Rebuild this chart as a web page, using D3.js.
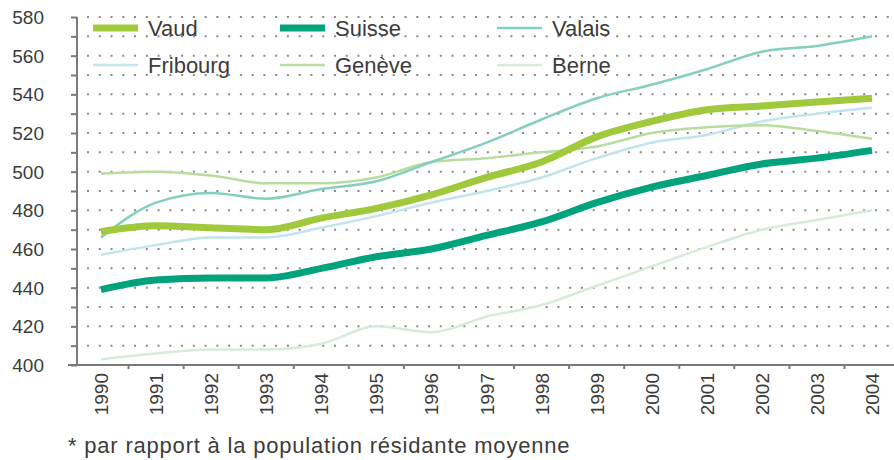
<!DOCTYPE html>
<html>
<head>
<meta charset="utf-8">
<script src="https://d3js.org/d3.v7.min.js"></script>
<title>Vaud Suisse</title>
<style>
body { margin: 0; background: #fff; }
text { font-family: "Liberation Sans", Arial, sans-serif; fill: #3c3c3c; }
</style>
</head>
<body>
<script>

var years = [1990, 1991, 1992, 1993, 1994, 1995, 1996, 1997, 1998, 1999, 2000, 2001, 2002, 2003, 2004];
var yTicks = [400, 420, 440, 460, 480, 500, 520, 540, 560, 580];

var vaud     = [469, 472, 471, 470, 476, 481, 488, 497, 505, 518, 526, 532, 534, 536, 538];
var suisse   = [439, 444, 445, 445, 450, 456, 460, 467, 474, 484, 492, 498, 504, 507, 511];
var valais   = [466, 484, 489, 486, 491, 495, 505, 515, 527, 538, 545, 553, 562, 565, 570];
var fribourg = [457, 462, 466, 466, 471, 477, 484, 490, 497, 507, 515, 519, 526, 530, 533];
var geneve   = [499, 500, 498, 494, 494, 497, 505, 507, 510, 513, 520, 523, 524, 521, 517];
var berne    = [403, 406, 408, 408, 411, 420, 417, 425, 431, 441, 451, 461, 470, 475, 480];

var names = ["Vaud", "Suisse", "Valais", "Fribourg", "Genève", "Berne"];
var footnote = "* par rapport à la population résidante moyenne";

var width = 894,
    height = 460;

var series = [
  { name: names[3], values: fribourg, color: "#c2e4ec", w: 2.5 },
  { name: names[5], values: berne,    color: "#d5ecdb", w: 2.5 },
  { name: names[4], values: geneve,   color: "#b8dd9e", w: 2.5 },
  { name: names[2], values: valais,   color: "#84cfbd", w: 2.5 },
  { name: names[1], values: suisse,   color: "#00a37b", w: 7 },
  { name: names[0], values: vaud,     color: "#a0c93c", w: 7 }
];

var svg = d3.select("body")
  .append("svg")
  .attr("width", width)
  .attr("height", height);

var x = d3.scalePoint()
    .domain(years)
    .range([101, 872]);

var y = d3.scaleLinear()
    .domain([400, 580])
    .range([365, 17]);

// dotted grid, one row every 10
var gridVals = d3.range(410, 581, 10);
svg.append("g")
  .selectAll("line")
  .data(gridVals)
  .enter()
  .append("line")
  .attr("x1", 87)
  .attr("x2", 892)
  .attr("y1", function(d) { return y(d); })
  .attr("y2", function(d) { return y(d); })
  .attr("stroke", "#8a8a8a")
  .attr("stroke-width", 2)
  .attr("stroke-dasharray", "2,9.76");

// y axis
var yAxis = svg.append("g")
  .attr("transform", "translate(77,0)")
  .call(d3.axisLeft(y).tickValues(d3.range(400, 581, 10)).tickSize(6).tickFormat(""));
yAxis.select(".domain").attr("stroke", "#7a7a7a").attr("stroke-width", 2).attr("d", "M0," + y(580) + "V" + (y(400) + 1));
yAxis.selectAll(".tick line").attr("stroke", "#7a7a7a").attr("stroke-width", 2);

svg.append("g")
  .selectAll("text")
  .data(yTicks)
  .enter()
  .append("text")
  .attr("x", 44)
  .attr("y", function(d) { return y(d) + 7; })
  .attr("text-anchor", "end")
  .attr("font-size", 19)
  .text(function(d) { return d; });

// x axis
svg.append("line")
  .attr("x1", 68).attr("x2", width)
  .attr("y1", y(400)).attr("y2", y(400))
  .attr("stroke", "#7a7a7a")
  .attr("stroke-width", 2);

var step = x.step();
svg.append("g")
  .selectAll("line")
  .data(years)
  .enter()
  .append("line")
  .attr("x1", function(d) { return x(d) + step / 2; })
  .attr("x2", function(d) { return x(d) + step / 2; })
  .attr("y1", y(400)).attr("y2", y(400) + 4)
  .attr("stroke", "#7a7a7a")
  .attr("stroke-width", 2);

svg.append("g")
  .selectAll("text")
  .data(years)
  .enter()
  .append("text")
  .attr("transform", function(d) { return "translate(" + (x(d) + 7) + "," + (y(400) + 8) + ") rotate(-90)"; })
  .attr("text-anchor", "end")
  .attr("font-size", 19)
  .text(function(d) { return d; });

// lines
var line = d3.line()
  .x(function(d, i) { return x(years[i]); })
  .y(function(d) { return y(d); })
  .curve(d3.curveMonotoneX);

svg.append("g")
  .selectAll("path")
  .data(series)
  .enter()
  .append("path")
  .attr("fill", "none")
  .attr("stroke", function(d) { return d.color; })
  .attr("stroke-width", function(d) { return d.w; })
  .attr("d", function(d) { return line(d.values); });

// legend
var legend = [
  { s: series[5], lx: 93,  ly: 28 },
  { s: series[4], lx: 280, ly: 28 },
  { s: series[3], lx: 497, ly: 28 },
  { s: series[0], lx: 93,  ly: 65 },
  { s: series[2], lx: 280, ly: 65 },
  { s: series[1], lx: 497, ly: 65 }
];

var lg = svg.append("g")
  .selectAll("g")
  .data(legend)
  .enter()
  .append("g")
  .attr("transform", function(d) { return "translate(" + d.lx + "," + d.ly + ")"; });

lg.append("line")
  .attr("x1", 0).attr("x2", 45)
  .attr("y1", 0).attr("y2", 0)
  .attr("stroke", function(d) { return d.s.color; })
  .attr("stroke-width", function(d) { return d.s.w; });

lg.append("text")
  .attr("x", 55)
  .attr("y", 8)
  .attr("font-size", 22)
  .text(function(d) { return d.s.name; });

// footnote
svg.append("text")
  .attr("x", 68)
  .attr("y", 453)
  .attr("font-size", 22)
  .attr("letter-spacing", 0.8)
  .text(footnote);

</script>
</body>
</html>
